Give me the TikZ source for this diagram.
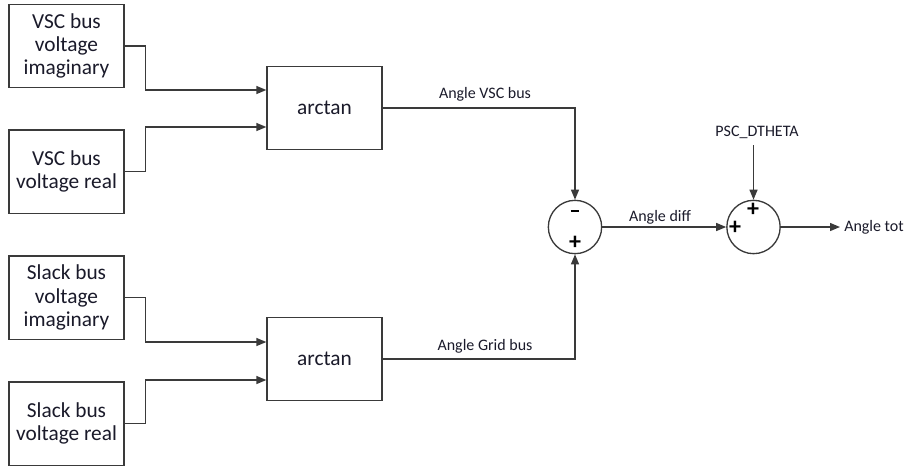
\documentclass[tikz,border=0pt]{standalone}
\usepackage{fontspec}
\setmainfont{Carlito}
\usetikzlibrary{arrows.meta,calc}
\definecolor{ln}{HTML}{3A3A3A}
\definecolor{tx}{HTML}{1A1A2A}
\begin{document}
\begin{tikzpicture}[x=0.75pt,y=-0.75pt,
  box/.style={draw=ln,line width=1pt,fill=white,minimum width=86.25pt,minimum height=62.5pt,align=center,text=tx,font=\fontsize{16}{17.5}\selectfont,inner sep=0pt},
  sumc/.style={draw=ln,line width=1pt,circle,minimum size=40pt,inner sep=0pt},
  wire/.style={draw=ln,line width=1pt},
  arr/.style={wire,-{Triangle[length=7.5pt,width=6pt]}},
  lbl/.style={text=tx,font=\fontsize{12}{13}\selectfont,inner sep=0pt},
  sgn/.style={text=black,font=\fontsize{18}{18}\selectfont\bfseries,inner sep=0pt}]
\useasboundingbox (0,0) rectangle (905,469);
\node[box] (b1) at (66.5,46) {VSC bus\\voltage\\imaginary};
\node[box] (b2) at (66.5,171.5) {VSC bus\\voltage real};
\node[box] (b3) at (66.5,297.5) {Slack bus\\voltage\\imaginary};
\node[box] (b4) at (66.5,423.5) {Slack bus\\voltage real};
\node[box] (a1) at (324.5,108) {arctan};
\node[box] (a2) at (324.5,359) {arctan};
\node[sumc] (s1) at (575,227) {};
\node[sumc] (s2) at (753.5,227) {};
\node[sgn] (m1) at (575,211) {\rule{6.5pt}{2.2pt}};
\node[sgn] (p1) at (575,243) {+};
\node[sgn] (p2) at (753,210) {+};
\node[sgn] (p3) at (735,228) {+};
\node[lbl] (psc) at (757,132) {PSC\_DTHETA};
% inputs to arctan 1
\draw[arr] (b1.east) -- ([xshift=15.75pt]b1.east) |- ([yshift=13.5pt]a1.west);
\draw[arr] (b2.east) -- ([xshift=15.75pt]b2.east) |- ([yshift=-14.25pt]a1.west);
\draw[arr] (b3.east) -- ([xshift=15.75pt]b3.east) |- ([yshift=12.75pt]a2.west);
\draw[arr] (b4.east) -- ([xshift=15.75pt]b4.east) |- ([yshift=-15.75pt]a2.west);
% arctan outputs
\draw[arr] (a1.east) -| (s1.north);
\draw[arr] (a2.east) -| (s1.south);
\draw[arr] (s1.east) -- (s2.west);
\draw[arr] ([yshift=-5pt]s2.north |- psc.south) -- (s2.north);
\coordinate (out) at (840,227);
\draw[arr] (s2.east) -- (out);
\node[lbl,anchor=west] (tot) at ([xshift=3pt]out) {Angle tot};
\node[lbl] (l1) at (485,94) {Angle VSC bus};
\node[lbl] (l2) at (485,346) {Angle Grid bus};
\node[lbl] (l3) at (660,217) {Angle diff};
\end{tikzpicture}
\end{document}
